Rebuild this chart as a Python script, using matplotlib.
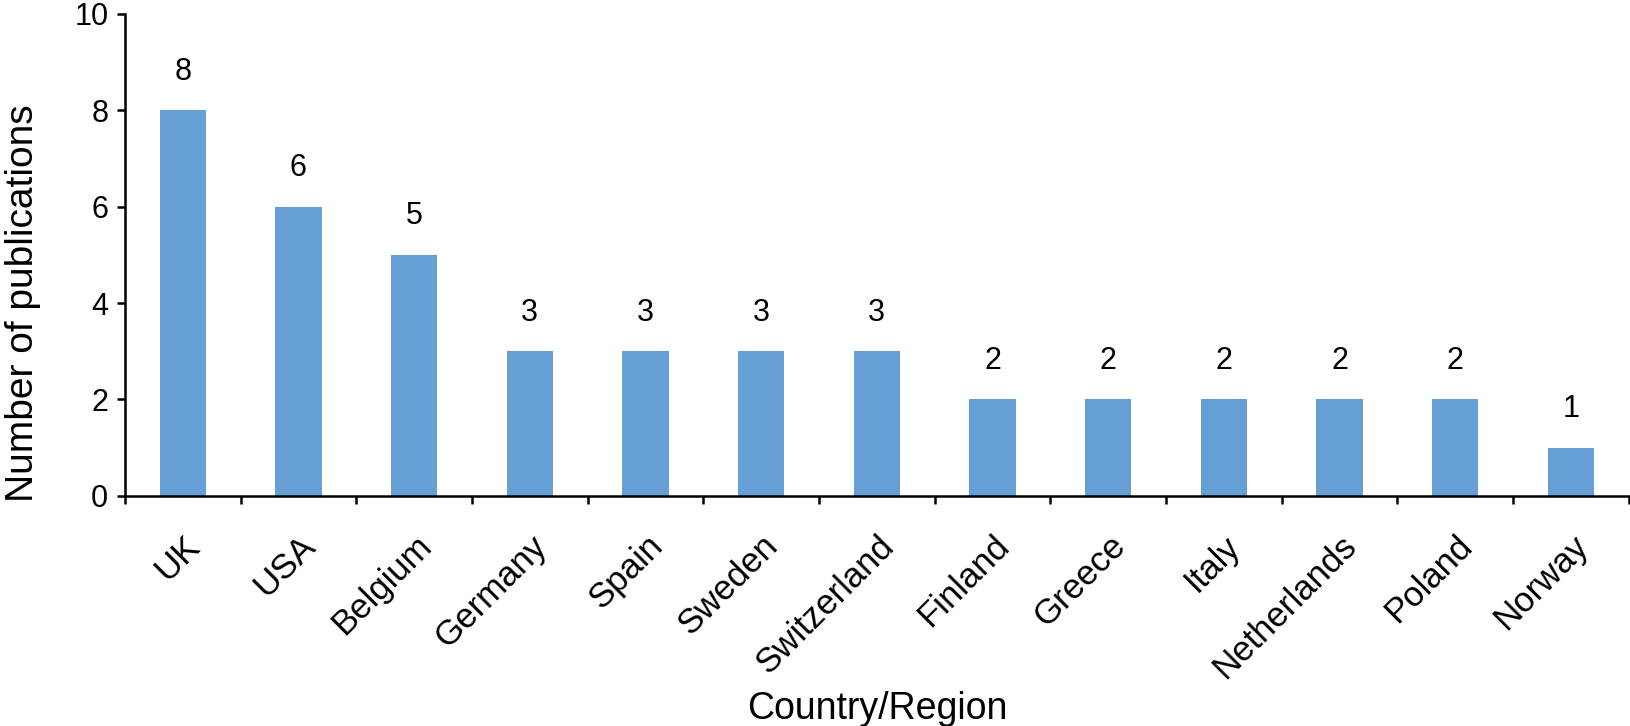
import numpy as np
import matplotlib
matplotlib.use("Agg")
import matplotlib.pyplot as plt

countries = ["UK", "USA", "Belgium", "Germany", "Spain", "Sweden", "Switzerland",
             "Finland", "Greece", "Italy", "Netherlands", "Poland", "Norway"]
publications = [8, 6, 5, 3, 3, 3, 3, 2, 2, 2, 2, 2, 1]
yticks = [0, 2, 4, 6, 8, 10]

plt.rcParams['font.family'] = ['Liberation Sans', 'DejaVu Sans']

fig = plt.figure(figsize=(16.31, 7.26), dpi=100)
ax = fig.add_axes([0.0766, 0.317, 0.922, 0.664])

x = np.arange(len(countries))
ax.bar(x, publications, width=0.4, color='#659fd6')

for xi, v in zip(x, publications):
    ax.annotate(str(v), (xi, v), xytext=(0, 17), textcoords='offset points',
                ha='center', va='bottom', fontsize=22)

ax.set_xlim(-0.5, len(countries) - 0.5)
ax.set_ylim(0, 10)
ax.set_yticks(yticks)
ax.set_xticks(x)
ax.set_xticklabels(countries, rotation=45, ha='right', rotation_mode='anchor')
ax.set_xticks(np.arange(-0.5, len(countries)), minor=True)

for s in ['top', 'right']:
    ax.spines[s].set_visible(False)
for s in ['left', 'bottom']:
    ax.spines[s].set_linewidth(1.8)

ax.tick_params(axis='x', which='major', length=0, pad=24, labelsize=25)
ax.tick_params(axis='x', which='minor', length=6, width=1.8, direction='out')
ax.tick_params(axis='y', length=6, width=1.8, direction='out', labelsize=22, pad=6)

ax.set_ylabel('Number of publications', fontsize=28)
ax.yaxis.set_label_coords(-0.056, 0.4)
ax.set_xlabel('Country/Region', fontsize=27)
ax.xaxis.set_label_coords(0.5, -0.405)

fig.savefig('out.png', dpi=100)
